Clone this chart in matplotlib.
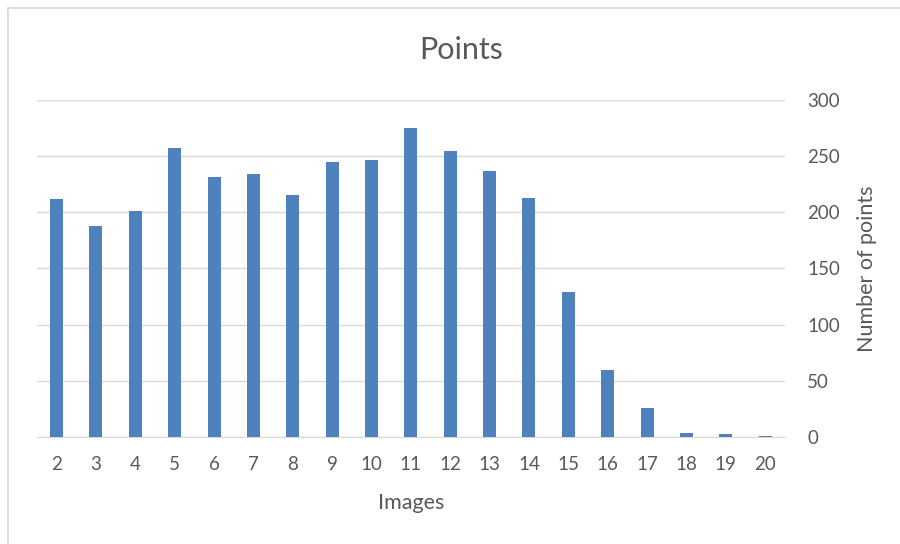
import matplotlib.pyplot as plt
from matplotlib.lines import Line2D

plt.rcParams['font.family'] = ['Lato', 'DejaVu Sans']

images = ['2', '3', '4', '5', '6', '7', '8', '9', '10', '11',
          '12', '13', '14', '15', '16', '17', '18', '19', '20']
points = [212, 188, 201, 257, 231, 234, 215, 245, 247, 275,
          255, 237, 213, 129, 60, 26, 4, 3, 1]
yticks = [0, 50, 100, 150, 200, 250, 300]

grey = '#595959'
fig = plt.figure(figsize=(9, 5.44), dpi=100)
ax = fig.add_axes([0.041, 0.1967, 0.831, 0.6195])

x = range(len(images))
ax.bar(x, points, width=0.33, color='#4f81bd', zorder=3)

ax.set_xlim(-0.5, len(images) - 0.5)
ax.set_ylim(0, 300)
ax.set_yticks(yticks)
ax.set_xticks(list(x))
ax.set_xticklabels(images)
ax.yaxis.tick_right()
ax.yaxis.set_label_position('right')
ax.grid(axis='y', color='#d9d9d9', linewidth=1, zorder=0)
for s in ['top', 'left', 'right']:
    ax.spines[s].set_visible(False)
ax.spines['bottom'].set_color('#d9d9d9')
ax.tick_params(axis='both', length=0, labelsize=13.5, colors=grey)
ax.tick_params(axis='x', pad=14)
ax.tick_params(axis='y', pad=16)

ax.set_xlabel('Images', fontsize=15.5, color=grey, labelpad=14)
ax.set_ylabel('Number of points', fontsize=15.5, color=grey, labelpad=12)
fig.text(461 / 900, 1 - 50 / 544, 'Points', fontsize=22, color=grey,
         ha='center', va='center')

# chart frame
fig.add_artist(Line2D([8 / 900, 1], [1 - 8 / 544] * 2, color='#d9d9d9', lw=1.2))
fig.add_artist(Line2D([8 / 900] * 2, [0, 1 - 8 / 544], color='#d9d9d9', lw=1.2))

fig.savefig('out.png', dpi=100)
